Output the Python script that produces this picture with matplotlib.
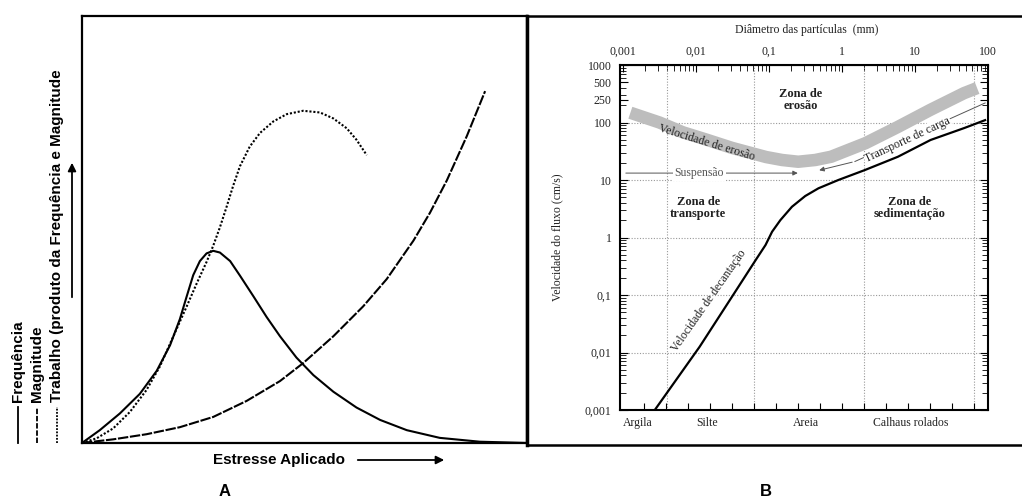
from matplotlib import pyplot as plt
from matplotlib.lines import Line2D
from matplotlib.ticker import LogLocator, NullLocator, NullFormatter
import numpy as np

# ---- panel A data (stress axis 0-100, arbitrary units) ----
freq_x = [0, 4.0, 8.5, 13.0, 16.8, 19.8, 22.0, 23.5, 25.0, 26.5, 28.0, 29.5, 31.0, 33.3, 35.5, 38.5,
          41.5, 44.5, 48.2, 52.0, 56.5, 61.7, 67.0, 73.0, 80.4, 89.4, 100]
freq_y = [0, 3.0, 6.9, 11.5, 16.9, 22.9, 29.0, 34.2, 39.3, 42.6, 44.4, 45.0, 44.6, 42.6, 39.2, 34.4,
          29.5, 25.0, 20.0, 15.9, 12.0, 8.3, 5.4, 3.0, 1.2, 0.3, 0]
mag_x = [0, 7.0, 14.5, 22.0, 29.5, 37.0, 44.5, 49.7, 56.5, 63.2, 68.5, 74.5, 78.2, 82.0, 86.5, 90.6]
mag_y = [0, 0.85, 2.05, 3.7, 6.1, 9.85, 14.5, 18.7, 25.0, 32.0, 38.4, 47.4, 53.9, 61.5, 71.9, 82.4]
work_x = [0, 3.3, 7.0, 10.8, 14.5, 17.5, 20.5, 23.5, 25.8, 28.0, 29.5, 31.0, 32.5, 34.0, 35.5, 37.7,
          40.0, 43.0, 46.0, 49.7, 53.5, 56.5, 59.5, 61.7, 64.0]
work_y = [0, 1.1, 3.4, 7.3, 12.4, 17.9, 24.9, 31.9, 37.4, 42.4, 46.2, 50.5, 55.3, 60.3, 64.8, 69.4,
          72.6, 75.3, 77.0, 77.8, 77.4, 76.0, 73.7, 71.0, 67.4]

# ---- panel B data (Hjulstrom diagram) ----
eros_d = [0.00126, 0.00316, 0.0066, 0.0141, 0.0309, 0.0912, 0.151, 0.251, 0.429, 0.708, 2.09, 5.75,
          16.2, 46.8, 70.8]
eros_v = [148, 100, 67.6, 50.1, 36.3, 25.1, 22.3, 20.8, 22.3, 25.4, 43.7, 83.2, 166, 324, 398]
dec_d = [0.00272, 0.0112, 0.0309, 0.0656, 0.0895, 0.110, 0.143, 0.206, 0.313, 0.475, 0.888, 2.05,
         5.82, 16.3, 47.2, 91.0]
dec_v = [0.001, 0.0126, 0.0923, 0.406, 0.741, 1.26, 2.01, 3.43, 5.27, 7.18, 10.0, 14.9, 25.4, 49.7,
         80.2, 110]
carga_d = [0.447, 1.5, 91.2]
carga_v = [14.4, 21, 219]
susp_d = [0.001, 0.27]
susp_v = 13.2
grain_limits = [0.004, 0.0625, 2, 64]
grain_ticks = 2.0 ** np.arange(-9, 7)
vel_grid = [0.01, 0.1, 1, 10, 100]
top_ticks = [0.001, 0.01, 0.1, 1, 10, 100]
top_labels = ['0,001', '0,01', '0,1', '1', '10', '100']
y_ticks = [0.001, 0.01, 0.1, 1, 10, 100, 250, 500, 1000]
y_labels = ['0,001', '0,01', '0,1', '1', '10', '100', '250', '500', '1000']
grain_names = ['Argila', 'Silte', 'Areia', 'Calhaus rolados']
grain_name_x = [0.0016, 0.014, 0.32, 8.7]

fig = plt.figure(figsize=(10.22, 5.01), dpi=100)

# ================= panel A =================
axa = fig.add_axes([0.0802, 0.1158, 0.4354, 0.8523])
axa.plot(freq_x, freq_y, 'k-', lw=1.5, solid_joinstyle='round')
axa.plot(mag_x, mag_y, color='k', lw=1.5, linestyle=(0, (5, 0.8)))
axa.plot(work_x, work_y, color='k', lw=1.5, linestyle=(0, (1, 0.9)))
axa.set_xlim(0, 100)
axa.set_ylim(0, 100)
axa.set_xticks([])
axa.set_yticks([])
for s in axa.spines.values():
    s.set_linewidth(1.6)

# rotated legend / y label
sans = 'Liberation Sans'
styles = ['-', (0, (3, 1)), (0, (1, 0.8))]
texts = ['Frequência', 'Magnitude', 'Trabalho (produto da Frequência e Magnitude']
for xp, ls, t in zip([18, 37, 57], styles, texts):
    fig.add_artist(Line2D([xp / 1022] * 2, [58 / 501, 94 / 501], color='k', lw=1.3, linestyle=ls))
    fig.text(xp / 1022, 99 / 501, t, rotation=90, rotation_mode='anchor', ha='left', va='center',
             fontsize=11, fontweight='bold', family=sans)
plt.annotate('', xy=(72 / 1022, 341 / 501), xytext=(72 / 1022, 201 / 501), xycoords='figure fraction',
             arrowprops=dict(arrowstyle='-|>', color='k', lw=1.3, mutation_scale=12))

fig.text(345 / 1022, 41 / 501, 'Estresse Aplicado', ha='right', va='center',
         fontsize=11, fontweight='bold', family=sans)
plt.annotate('', xy=(447 / 1022, 41 / 501), xytext=(355 / 1022, 41 / 501), xycoords='figure fraction',
             arrowprops=dict(arrowstyle='-|>', color='k', lw=1.3, mutation_scale=12))
fig.text(225 / 1022, 10 / 501, 'A', ha='center', va='center', fontsize=12, fontweight='bold', family=sans)
fig.text(766 / 1022, 10 / 501, 'B', ha='center', va='center', fontsize=12, fontweight='bold', family=sans)

# ================= panel B =================
frame = fig.add_axes([0.5157, 0.1118, 0.49, 0.8563])
frame.set_xticks([])
frame.set_yticks([])
frame.spines['right'].set_visible(False)
frame.spines['left'].set_linewidth(2.5)
frame.spines['top'].set_linewidth(1.8)
frame.spines['bottom'].set_linewidth(1.8)

serif = 'Liberation Serif'
tc = '#222222'
axb = fig.add_axes([0.6067, 0.1816, 0.3601, 0.6886])
axb.set_xscale('log')
axb.set_yscale('log')
axb.set_xlim(0.00091, 100)
axb.set_ylim(0.001, 1000)

for g in grain_limits:
    axb.axvline(g, color='#999999', lw=0.8, linestyle=(0, (1, 1.5)), zorder=1)
for v in vel_grid:
    axb.axhline(v, color='#999999', lw=0.8, linestyle=(0, (1, 1.5)), zorder=1)

axb.plot(eros_d, eros_v, color='#bdbdbd', lw=9, solid_capstyle='butt', solid_joinstyle='round', zorder=2)
axb.plot(dec_d, dec_v, color='k', lw=1.6, solid_joinstyle='round', zorder=3)

# suspension arrow
axb.annotate('', xy=(susp_d[1], susp_v), xytext=(susp_d[0], susp_v),
             arrowprops=dict(arrowstyle='-|>', color='#555555', lw=0.7, mutation_scale=7))
axb.text(0.0111, susp_v, 'Suspensão', ha='center', va='center', fontsize=8.5, color='#555555',
         family=serif, bbox=dict(facecolor='white', edgecolor='none', pad=1))

# bed-load transport line
axb.plot(carga_d[1:], carga_v[1:], color='#555555', lw=0.7, zorder=3)
axb.annotate('', xy=(carga_d[0], carga_v[0]), xytext=(carga_d[1], carga_v[1]),
             arrowprops=dict(arrowstyle='-|>', color='#555555', lw=0.7, mutation_scale=7))
axb.text(7.9, 50, 'Transporte de carga', ha='center', va='center', rotation=25, fontsize=8.5,
         color=tc, family=serif, zorder=4, bbox=dict(facecolor='white', edgecolor='none', pad=0.5))

axb.text(0.0141, 43.7, 'Velocidade de erosão', ha='center', va='center', rotation=-17,
         fontsize=8.5, color=tc, family=serif, zorder=4)
axb.text(0.0151, 0.081, 'Velocidade de decantação', ha='center', va='center', rotation=55,
         fontsize=8.5, color=tc, family=serif, zorder=4)

zone_kw = dict(ha='center', va='center', fontsize=9, fontweight='bold', color=tc, family=serif,
               linespacing=1.0)
axb.text(0.27, 245, 'Zona de\nerosão', **zone_kw)
axb.text(0.0107, 3.24, 'Zona de\ntransporte', **zone_kw)
axb.text(8.5, 3.24, 'Zona de\nsedimentação', **zone_kw)

# bottom: grain class ticks and names
axb.set_xticks(grain_ticks)
axb.set_xticklabels([])
axb.xaxis.set_minor_locator(NullLocator())
axb.tick_params(axis='x', which='both', direction='in', length=5, width=0.8, bottom=True, top=False)
for name, gx in zip(grain_names, grain_name_x):
    axb.text(gx, -0.038, name, transform=axb.get_xaxis_transform(), ha='center', va='center',
             fontsize=8.5, color=tc, family=serif)

# top: diameter axis
sec = axb.secondary_xaxis('top')
sec.set_xticks(top_ticks, top_labels)
sec.xaxis.set_minor_locator(LogLocator(subs=np.arange(2, 10)))
sec.xaxis.set_minor_formatter(NullFormatter())
sec.tick_params(which='major', direction='in', length=5, width=0.8, pad=5, labelsize=8.5, labelcolor=tc)
sec.tick_params(which='minor', direction='in', length=4, width=0.6)
for lab in sec.get_xticklabels():
    lab.set_family(serif)
axb.text(0.508, 1.101, 'Diâmetro das partículas  (mm)', transform=axb.transAxes, ha='center',
         va='center', fontsize=8.5, color=tc, family=serif)

# velocity axis
axb.set_yticks(y_ticks, y_labels)
axb.yaxis.set_minor_locator(LogLocator(subs=np.arange(2, 10)))
axb.yaxis.set_minor_formatter(NullFormatter())
axb.tick_params(axis='y', which='major', direction='in', length=6, width=0.8, left=True, right=True,
                pad=6, labelsize=8.5, labelcolor=tc)
axb.tick_params(axis='y', which='minor', direction='in', length=4, width=0.6, left=True, right=True)
for lab in axb.get_yticklabels():
    lab.set_family(serif)
axb.set_ylabel('Velocidade do fluxo (cm/s)', fontsize=8.5, color=tc, family=serif)
axb.yaxis.set_label_coords(-0.155, 0.5)
for s in axb.spines.values():
    s.set_linewidth(1.5)

plt.savefig('out.png', dpi=100)
